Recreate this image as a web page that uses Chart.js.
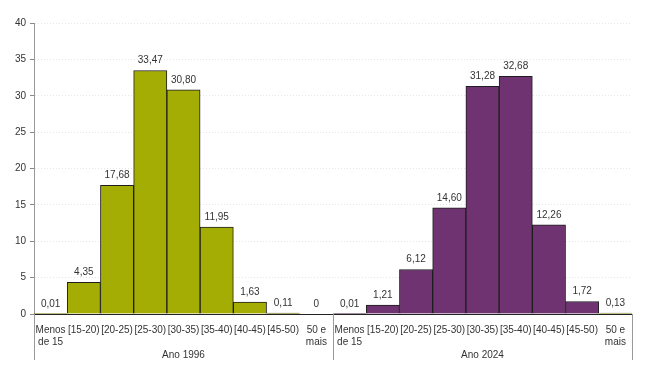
<!DOCTYPE html>
<html>
<head>
<meta charset="utf-8">
<script src="https://cdn.jsdelivr.net/npm/chart.js@4.4.0/dist/chart.umd.min.js"></script>
<style>
  html, body { margin: 0; padding: 0; background: #fff; }
  #wrap { width: 645px; height: 387px; }
</style>
</head>
<body>
<div id="wrap"><canvas id="chartCanvas" width="645" height="387"></canvas></div>
<script>
const ageGroups = [['Menos', 'de 15'], '[15-20)', '[20-25)', '[25-30)', '[30-35)', '[35-40)', '[40-45)', '[45-50)', ['50 e', 'mais']];
const years = ['Ano 1996', 'Ano 2024'];
const values1996 = [0.01, 4.35, 17.68, 33.47, 30.80, 11.95, 1.63, 0.11, 0];
const values2024 = [0.01, 1.21, 6.12, 14.60, 31.28, 32.68, 12.26, 1.72, 0.13];
const yTicks = [0, 5, 10, 15, 20, 25, 30, 35, 40];

const olive = '#a4ad04';
const purple = '#6e3370';

const labels = ageGroups.concat(ageGroups);
const values = values1996.concat(values2024);
const colors = values.map((v, i) => {
    if (i < ageGroups.length) return olive;
    if (i === labels.length - 1) return olive; // last tiny bar shows olive in the source
    return purple;
});

function formatValue(v) {
    if (v === 0) return '0';
    return v.toFixed(2).replace('.', ',');
}

const valueLabels = {
    id: 'valueLabels',
    afterDatasetsDraw(chart) {
        const ctx = chart.ctx;
        const meta = chart.getDatasetMeta(0);
        ctx.save();
        ctx.font = '10px "Liberation Sans", Arial, sans-serif';
        ctx.fillStyle = '#333';
        ctx.textAlign = 'center';
        ctx.textBaseline = 'bottom';
        meta.data.forEach((bar, i) => {
            ctx.fillText(formatValue(values[i]), bar.x, bar.y - 5);
        });
        ctx.restore();
    }
};

const groupLabels = {
    id: 'groupLabels',
    afterDraw(chart) {
        const ctx = chart.ctx;
        const x = chart.scales.x;
        const area = chart.chartArea;
        const n = ageGroups.length;
        ctx.save();
        ctx.strokeStyle = '#999';
        ctx.lineWidth = 1;
        const edges = [area.left, (x.getPixelForValue(n - 1) + x.getPixelForValue(n)) / 2, area.right];
        edges.forEach(px => {
            const xx = Math.round(px) + 0.5;
            ctx.beginPath();
            ctx.moveTo(xx, area.bottom);
            ctx.lineTo(xx, area.bottom + 46);
            ctx.stroke();
        });
        ctx.font = '10px "Liberation Sans", Arial, sans-serif';
        ctx.fillStyle = '#333';
        ctx.textAlign = 'center';
        ctx.textBaseline = 'middle';
        years.forEach((y, g) => {
            ctx.fillText(y, (edges[g] + edges[g + 1]) / 2, area.bottom + 41);
        });
        ctx.restore();
    }
};

new Chart(document.getElementById('chartCanvas'), {
    type: 'bar',
    data: {
        labels: labels,
        datasets: [{
            data: values,
            backgroundColor: colors,
            borderColor: '#1e1e1e',
            borderWidth: 1,
            categoryPercentage: 1,
            barPercentage: 1
        }]
    },
    options: {
        responsive: false,
        animation: false,
        layout: { padding: { top: 23, right: 13, left: 0, bottom: 0 } },
        plugins: {
            legend: { display: false },
            tooltip: { enabled: false }
        },
        scales: {
            x: {
                grid: { display: false },
                border: { color: '#222', width: 1 },
                ticks: {
                    color: '#333',
                    font: { family: '"Liberation Sans", Arial, sans-serif', size: 10 },
                    maxRotation: 0,
                    autoSkip: false,
                    padding: 2
                },
                afterFit(scale) { scale.height = 73; }
            },
            y: {
                min: 0,
                max: 40,
                afterBuildTicks(scale) { scale.ticks = yTicks.map(v => ({ value: v })); },
                grid: {
                    color: '#e6e6e6',
                    tickColor: '#888',
                    tickLength: 4,
                    tickBorderDash: [],
                    drawOnChartArea: true
                },
                border: { color: '#999', width: 1, dash: [1, 2] },
                ticks: {
                    color: '#333',
                    font: { family: '"Liberation Sans", Arial, sans-serif', size: 10 },
                    padding: 4
                },
                afterFit(scale) { scale.width = 34; }
            }
        }
    },
    plugins: [valueLabels, groupLabels]
});
</script>
</body>
</html>
